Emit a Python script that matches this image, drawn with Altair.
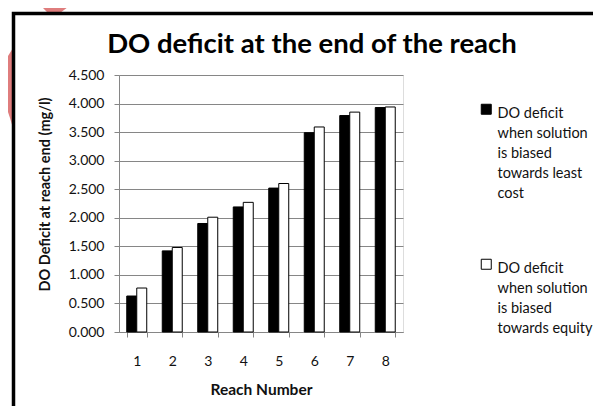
import altair as alt
import pandas as pd

# ---- data ----
chart_title = ["DO deficit at the end of the reach"]
reaches = [1, 2, 3, 4, 5, 6, 7, 8]
least_cost = [0.63, 1.42, 1.90, 2.19, 2.52, 3.49, 3.79, 3.93]
equity = [0.77, 1.48, 2.01, 2.27, 2.60, 3.59, 3.85, 3.94]
series_names = [
    "DO deficit\nwhen solution\nis biased\ntowards least\ncost",
    "DO deficit\nwhen solution\nis biased\ntowards equity",
]
series_colors = ["#000000", "#ffffff"]
y_ticks = [0.0, 0.5, 1.0, 1.5, 2.0, 2.5, 3.0, 3.5, 4.0, 4.5]

rows = []
for r, a, b in zip(reaches, least_cost, equity):
    rows.append({"reach": r, "series": series_names[0], "value": a})
    rows.append({"reach": r, "series": series_names[1], "value": b})
df = pd.DataFrame(rows)

FONT = "Lato"
W, H = 284, 257
GRID = "#868686"

bars = alt.Chart(df).mark_bar(stroke="black", strokeWidth=1).encode(
    x=alt.X(
        "reach:O",
        scale=alt.Scale(paddingInner=0.437, paddingOuter=0.2185),
        axis=alt.Axis(
            title="Reach Number", labelAngle=0, tickBand="extent",
            domainColor=GRID, tickColor=GRID, tickSize=5,
            labelFont=FONT, labelFontSize=14, labelColor="#111111", labelPadding=17,
            titleFont=FONT, titleFontSize=15.5, titleFontWeight="bold",
            titleColor="#111111", titlePadding=14, grid=False,
        ),
    ),
    xOffset=alt.XOffset("series:N", sort=series_names,
                        scale=alt.Scale(paddingInner=0, paddingOuter=0)),
    y=alt.Y(
        "value:Q",
        scale=alt.Scale(domain=[0, 4.5], nice=False),
        axis=alt.Axis(
            title="DO Deficit at reach end (mg/l)", values=y_ticks, format=".3f",
            grid=True, gridColor=GRID, domainColor=GRID, tickColor=GRID, tickSize=5,
            labelFont=FONT, labelFontSize=14, labelColor="#111111", labelPadding=10,
            titleFont=FONT, titleFontSize=14.5, titleFontWeight="bold", titleColor="#111111",
            titleAngle=270, titleX=-74, titleY=119, titleAlign="center", titleBaseline="middle",
        ),
    ),
    fill=alt.Fill(
        "series:N", sort=series_names,
        scale=alt.Scale(domain=series_names, range=series_colors),
        legend=alt.Legend(
            title=None, orient="none", legendX=360, legendY=25,
            labelExpr="split(datum.label, '\\n')",
            labelFont=FONT, labelFontSize=14.5, labelColor="#111111", labelLimit=0,
            labelBaseline="top", rowPadding=54, labelOffset=4,
            symbolType="M-1,-0.6H1V1.4H-1Z", symbolSize=100,
            symbolStrokeColor="black", symbolStrokeWidth=1, symbolOpacity=1,
        ),
    ),
)

# red pen stroke behind the top-left corner of the frame (decoration)
scribble = alt.Chart(pd.DataFrame({"k": [0]})).mark_point(
    shape=("M-89,-80L-35,-80L-59,-62L-71,-62Z "
           "M-106,-27L-111,-19L-115,-7L-116.5,5L-116,17L-113,31L-109,43L-106,53Z"),
    size=4, filled=True, fill="#df7d7d", stroke=None, opacity=1,
).encode(x=alt.value(0), y=alt.value(0))

frame = alt.Chart(pd.DataFrame({"k": [0]})).mark_rect(
    fill=None, stroke="black", strokeWidth=3.5
).encode(
    x=alt.value(-105.5), x2=alt.value(700), y=alt.value(-61.5), y2=alt.value(600)
)

title = alt.Chart(pd.DataFrame({"t": chart_title})).mark_text(
    font=FONT, fontSize=27.5, fontWeight="bold", color="black",
    align="center", baseline="alphabetic",
).encode(text="t:N", x=alt.value(193), y=alt.value(-22))

chart = alt.layer(scribble, frame, bars, title).properties(
    width=W, height=H,
    autosize=alt.AutoSizeParams(type="none"),
    padding={"left": 111, "top": 67, "right": 190, "bottom": 74},
).configure_view(stroke=None).configure(style={"guide-label": {"lineHeight": 20}})

chart.save("out.html", embed_options={"renderer": "svg", "actions": False})
